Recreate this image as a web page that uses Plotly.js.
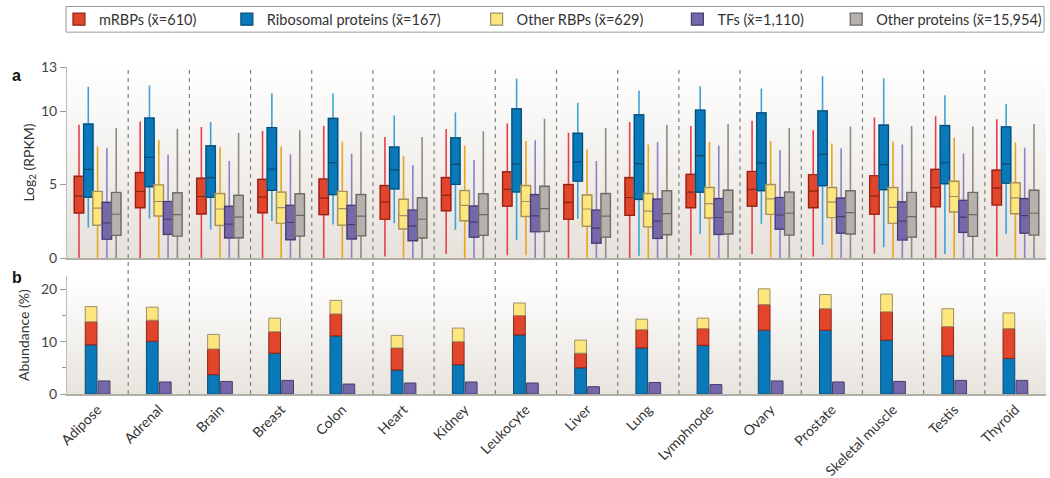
<!DOCTYPE html>
<html>
<head>
<meta charset="utf-8">
<script src="https://cdn.plot.ly/plotly-3.0.1.min.js"></script>
<style>
  html, body { margin: 0; padding: 0; background: #fff; }
  #chart { width: 1050px; height: 478px; }
</style>
</head>
<body>
<div id="chart"></div>
<script>
// tissues along the x axis
var tissues = ['Adipose', 'Adrenal', 'Brain', 'Breast', 'Colon', 'Heart', 'Kidney', 'Leukocyte',
  'Liver', 'Lung', 'Lymphnode', 'Ovary', 'Prostate', 'Skeletal muscle', 'Testis', 'Thyroid'];

// panel a, log2(RPKM) box stats
var mrbpLo  = [0, 0, 0, 0, 0, 0.1, 0.27, 0.2, 0, 0, 0.18, 0.27, 0.1, 0.29, 0, 0.1];
var mrbpQ1  = [3.07, 3.43, 3.00, 3.09, 2.96, 2.64, 3.23, 3.54, 2.64, 2.91, 3.43, 3.54, 3.43, 2.98, 3.49, 3.61];
var mrbpMed = [4.21, 4.53, 4.19, 4.14, 4.08, 3.81, 4.26, 4.68, 3.79, 4.12, 4.48, 4.68, 4.55, 4.23, 4.79, 4.77];
var mrbpQ3  = [5.56, 5.82, 5.42, 5.35, 5.38, 4.93, 5.47, 5.87, 5.00, 5.47, 5.69, 5.89, 5.67, 5.60, 6.03, 5.98];
var mrbpHi  = [9.07, 9.30, 8.92, 8.65, 9.00, 8.24, 8.78, 9.16, 8.53, 9.25, 8.98, 9.34, 8.69, 9.57, 9.65, 9.45];

var riboLo  = [2.08, 2.69, 1.95, 2.53, 2.28, 2.37, 1.93, 1.21, 2.67, 0.16, 1.64, 2.33, 0.90, 0.74, 0.27, 1.64];
var riboQ1  = [4.14, 4.86, 4.14, 4.61, 4.32, 4.70, 5.02, 4.50, 5.24, 3.99, 4.48, 4.59, 4.93, 4.66, 5.06, 5.09];
var riboMed = [6.03, 6.85, 5.47, 6.05, 6.50, 6.00, 6.38, 6.41, 6.54, 6.43, 6.97, 6.47, 7.06, 6.36, 6.50, 6.41];
var riboQ3  = [9.12, 9.52, 7.64, 8.87, 9.50, 7.55, 8.18, 10.15, 8.49, 9.74, 10.06, 9.88, 10.01, 9.05, 9.01, 8.92];
var riboHi  = [11.65, 11.74, 9.25, 11.22, 11.20, 9.70, 9.90, 12.21, 10.57, 11.40, 11.69, 11.54, 12.37, 12.23, 11.07, 10.48];

var orbpLo  = [0, 0, 0, 0, 0, 0, 0, 0.2, 0, 0, 0, 0, 0, 0, 0, 0];
var orbpQ1  = [2.24, 2.87, 2.22, 2.37, 2.24, 1.99, 2.55, 2.84, 2.17, 2.13, 2.73, 2.98, 2.76, 2.37, 3.14, 3.02];
var orbpMed = [3.40, 3.85, 3.34, 3.43, 3.36, 2.89, 3.58, 3.85, 3.34, 3.20, 3.70, 4.03, 3.81, 3.45, 4.19, 4.10];
var orbpQ3  = [4.53, 4.97, 4.39, 4.48, 4.53, 3.99, 4.59, 4.93, 4.28, 4.39, 4.79, 5.00, 4.79, 4.79, 5.22, 5.11];
var orbpHi  = [7.59, 8.02, 7.57, 7.59, 7.93, 6.94, 7.66, 7.97, 7.39, 7.73, 7.89, 7.97, 7.80, 7.93, 8.18, 7.86];

var tfLo  = [0, 0, 0, 0, 0, 0, 0, 0, 0, 0, 0, 0, 0, 0, 0, 0];
var tfQ1  = [1.28, 1.61, 1.37, 1.25, 1.30, 1.19, 1.43, 1.79, 1.01, 1.34, 1.61, 1.97, 1.70, 1.23, 1.75, 1.70];
var tfMed = [2.40, 2.64, 2.31, 2.42, 2.28, 2.17, 2.44, 2.87, 2.04, 2.51, 2.76, 2.93, 2.82, 2.51, 2.78, 2.89];
var tfQ3  = [3.79, 3.85, 3.52, 3.58, 3.58, 3.27, 3.54, 4.32, 3.27, 4.01, 4.05, 4.12, 4.08, 3.83, 3.92, 4.05];
var tfHi  = [7.48, 7.03, 6.61, 7.06, 7.10, 6.32, 6.68, 8.02, 6.61, 7.89, 7.66, 7.35, 7.48, 7.73, 7.12, 7.50];

var otherLo  = [0, 0, 0, 0, 0, 0, 0, 0, 0, 0, 0, 0, 0, 0, 0, 0];
var otherQ1  = [1.55, 1.50, 1.39, 1.50, 1.52, 1.37, 1.55, 1.81, 1.43, 1.59, 1.64, 1.57, 1.64, 1.43, 1.48, 1.57];
var otherMed = [2.98, 2.96, 2.78, 2.91, 2.85, 2.64, 2.96, 3.36, 2.85, 3.02, 3.14, 3.05, 3.09, 2.82, 2.96, 3.05];
var otherQ3  = [4.46, 4.44, 4.26, 4.37, 4.32, 4.10, 4.37, 4.88, 4.39, 4.57, 4.61, 4.48, 4.57, 4.46, 4.46, 4.61];
var otherHi  = [8.85, 8.80, 8.51, 8.69, 8.60, 8.24, 8.62, 9.48, 8.85, 9.05, 9.12, 8.85, 8.96, 8.98, 8.96, 9.12];

// panel b, abundance (%)
var riboAbund = [9.4, 10.1, 3.7, 7.8, 11.1, 4.6, 5.6, 11.3, 5.0, 8.8, 9.3, 12.2, 12.2, 10.3, 7.3, 6.8];
var mrbpAbund = [4.4, 4.0, 4.9, 4.1, 4.2, 4.2, 4.4, 3.7, 2.8, 3.5, 3.2, 4.9, 4.1, 5.4, 5.6, 5.7];
var orbpAbund = [2.9, 2.5, 2.8, 2.6, 2.6, 2.4, 2.6, 2.4, 2.5, 2.0, 2.0, 3.0, 2.7, 3.4, 3.4, 3.0];
var tfAbund   = [2.5, 2.3, 2.4, 2.6, 1.9, 2.1, 2.3, 2.1, 1.4, 2.2, 1.8, 2.5, 2.3, 2.4, 2.6, 2.6];

var seriesNames = ['mRBPs (x\u0303=610)', 'Ribosomal proteins (x\u0303=167)', 'Other RBPs (x\u0303=629)',
  'TFs (x\u0303=1,110)', 'Other proteins (x\u0303=15,954)'];

var FONT = 'Lato, "Open Sans", sans-serif';

var series = [
  {name: seriesNames[0], lo: mrbpLo, q1: mrbpQ1, med: mrbpMed, q3: mrbpQ3, hi: mrbpHi,
   fill: '#e1452b', edge: '#8c2414', whisk: '#e8404a'},
  {name: seriesNames[1], lo: riboLo, q1: riboQ1, med: riboMed, q3: riboQ3, hi: riboHi,
   fill: '#0a79ba', edge: '#0a4b72', whisk: '#3ea2d8'},
  {name: seriesNames[2], lo: orbpLo, q1: orbpQ1, med: orbpMed, q3: orbpQ3, hi: orbpHi,
   fill: '#fde67c', edge: '#9b8f6c', whisk: '#e6a71c'},
  {name: seriesNames[3], lo: tfLo, q1: tfQ1, med: tfMed, q3: tfQ3, hi: tfHi,
   fill: '#7468aa', edge: '#463d6c', whisk: '#8c82c4'},
  {name: seriesNames[4], lo: otherLo, q1: otherQ1, med: otherMed, q3: otherQ3, hi: otherHi,
   fill: '#b5b2ad', edge: '#6c6964', whisk: '#8f8b86'}
];

var legendIds = ['legend', 'legend2', 'legend3', 'legend4', 'legend5'];
var legendX = [-0.0082, 0.1633, 0.4184, 0.6235, 0.7857];

var data = [];
series.forEach(function (s, k) {
  // whiskers (lighter colour) underneath
  data.push({
    type: 'box', x: tissues, xaxis: 'x2', yaxis: 'y',
    q1: s.q1, median: s.med, q3: s.q3, lowerfence: s.lo, upperfence: s.hi,
    alignmentgroup: 'boxes', offsetgroup: 'g' + k, boxpoints: false, whiskerwidth: 0,
    fillcolor: 'rgba(0,0,0,0)', line: {color: s.whisk, width: 1.6},
    showlegend: false, hoverinfo: 'skip'
  });
  // the box itself on top
  data.push({
    type: 'box', x: tissues, xaxis: 'x2', yaxis: 'y', name: s.name, legend: legendIds[k],
    q1: s.q1, median: s.med, q3: s.q3, lowerfence: s.q1, upperfence: s.q3,
    alignmentgroup: 'boxes', offsetgroup: 'g' + k, boxpoints: false, whiskerwidth: 0,
    fillcolor: s.fill, line: {color: s.edge, width: 1.2}
  });
});

// panel b stacked bars built with base
var mrbpBase = riboAbund.slice();
var orbpBase = riboAbund.map(function (v, i) { return v + mrbpAbund[i]; });
var barParts = [
  {y: riboAbund, base: null, c: series[1], g: 'rbp'},
  {y: mrbpAbund, base: mrbpBase, c: series[0], g: 'rbp'},
  {y: orbpAbund, base: orbpBase, c: series[2], g: 'rbp'},
  {y: tfAbund, base: null, c: series[3], g: 'tf'}
];
barParts.forEach(function (p) {
  var tr = {
    type: 'bar', x: tissues, y: p.y, xaxis: 'x', yaxis: 'y2',
    alignmentgroup: 'bars', offsetgroup: p.g,
    marker: {color: p.c.fill, line: {color: p.c.edge, width: 1}},
    showlegend: false, hoverinfo: 'skip'
  };
  if (p.base) tr.base = p.base;
  data.push(tr);
});

function gradient(top, bottom) {
  var svg = "<svg xmlns='http://www.w3.org/2000/svg' viewBox='0 0 10 100' width='10' height='100' preserveAspectRatio='none'>" +
    "<defs><linearGradient id='g' x1='0' y1='0' x2='0' y2='1'>" +
    "<stop offset='0' stop-color='" + top + "'/><stop offset='1' stop-color='" + bottom + "'/>" +
    "</linearGradient></defs><rect width='10' height='100' fill='url(#g)'/></svg>";
  return 'data:image/svg+xml;charset=utf-8,' + encodeURIComponent(svg);
}

var shapes = [];
for (var i = 0; i < tissues.length - 1; i++) {
  shapes.push({type: 'line', xref: 'x', yref: 'paper', x0: i + 0.5, x1: i + 0.5, y0: 0, y1: 1,
    line: {color: '#808080', width: 1.2, dash: '4px,4px'}, layer: 'above'});
}
// frame around the legend row
shapes.push({type: 'rect', xref: 'paper', yref: 'paper', x0: -0.001, x1: 0.998, y0: 1.1066, y1: 1.185,
  line: {color: '#9a9a9a', width: 1}, fillcolor: 'rgba(0,0,0,0)'});

var layout = {
  width: 1050, height: 478,
  margin: {l: 67, r: 3, t: 63.3, b: 83.7},
  paper_bgcolor: '#ffffff', plot_bgcolor: 'rgba(0,0,0,0)',
  font: {family: FONT, size: 13, color: '#333'},
  hovermode: false,
  boxmode: 'group', boxgap: 0.24, boxgroupgap: 0,
  barmode: 'group', bargap: 0.575, bargroupgap: 0.1,
  showlegend: true,
  xaxis: {anchor: 'y2', type: 'category', range: [-0.5, 15.5], showline: true, linecolor: '#b2aea8',
    linewidth: 2, ticks: '', tickangle: -45, showgrid: false, zeroline: false,
    tickfont: {family: FONT, size: 14, color: '#333'}},
  xaxis2: {anchor: 'y', type: 'category', range: [-0.5, 15.5], showline: true, linecolor: '#b2aea8',
    linewidth: 2, ticks: '', showticklabels: false, showgrid: false, zeroline: false},
  yaxis: {domain: [0.4157, 1], range: [0, 13], tickvals: [0, 5, 10, 13], ticks: 'outside', ticklen: 6,
    tickcolor: '#999', showline: true, linecolor: '#bbb', showgrid: false, zeroline: false,
    tickfont: {family: FONT, size: 14, color: '#444'},
    title: {text: 'Log<sub>2</sub> (RPKM)', font: {family: FONT, size: 14, color: '#333'}, standoff: 3}},
  yaxis2: {domain: [0, 0.36], range: [0, 22.5], tickvals: [0, 10, 20], ticks: 'outside', ticklen: 6,
    tickcolor: '#999', showline: true, linecolor: '#bbb', showgrid: false, zeroline: false,
    minor: {dtick: 5, ticks: 'outside', ticklen: 4, tickcolor: '#999'},
    tickfont: {family: FONT, size: 14, color: '#444'},
    title: {text: 'Abundance (%)', font: {family: FONT, size: 14, color: '#333'}, standoff: 8}},
  images: [
    {source: gradient('#ffffff', '#e6e1db'), xref: 'paper', yref: 'y domain', x: 0, y: 1,
      sizex: 1, sizey: 1, xanchor: 'left', yanchor: 'top', sizing: 'stretch', layer: 'below'},
    {source: gradient('#ffffff', '#e8e4de'), xref: 'paper', yref: 'y2 domain', x: 0, y: 1,
      sizex: 1, sizey: 1, xanchor: 'left', yanchor: 'top', sizing: 'stretch', layer: 'below'}
  ],
  shapes: shapes,
  annotations: [
    {text: '<b>a</b>', xref: 'paper', yref: 'paper', x: -0.058, y: 1.005, showarrow: false,
      font: {family: 'Liberation Sans, Arial, sans-serif', size: 16, color: '#111'}},
    {text: '<b>b</b>', xref: 'paper', yref: 'paper', x: -0.058, y: 0.325, showarrow: false,
      font: {family: 'Liberation Sans, Arial, sans-serif', size: 16, color: '#111'}}
  ]
};

legendIds.forEach(function (id, k) {
  layout[id] = {orientation: 'h', x: legendX[k], xanchor: 'left', y: 1.146, yanchor: 'middle',
    bgcolor: 'rgba(0,0,0,0)', borderwidth: 0, font: {family: FONT, size: 14.5, color: '#333'}};
});

Plotly.newPlot('chart', data, layout, {displayModeBar: false, staticPlot: true});
</script>
</body>
</html>
